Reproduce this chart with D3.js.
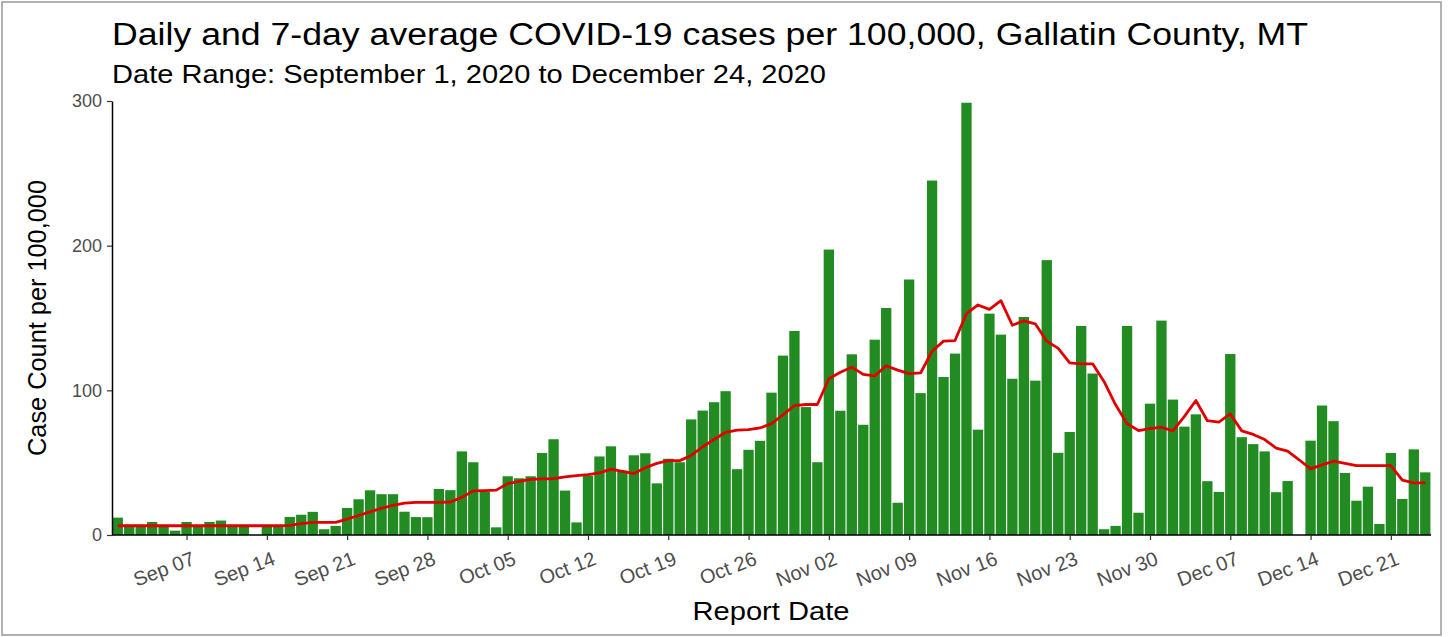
<!DOCTYPE html>
<html>
<head>
<meta charset="utf-8">
<script src="https://cdn.jsdelivr.net/npm/d3@7"></script>
<style>
  body { margin: 0; background: #fff; }
  text { font-family: "Liberation Sans", Arial, sans-serif; }
</style>
</head>
<body>
<div id="chart"></div>
<script>
// Gallatin County daily cases per 100k, Sep 1 - Dec 24 2020
var startDate = "2020-09-01";

var dailyCases = [
  12, 7, 7, 9, 6, 3, 9, 6, 9, 10, 6, 6, 0, 6, 6, 12.5, 14, 16, 4, 6.3,
  18.7, 24.7, 30.9, 28.2, 28.2, 16.1, 12.4, 12.3, 31.8, 31,
  57.8, 50.3, 30, 5.3, 40.6, 39.2, 40.6, 56.7, 66.2, 30.7, 8.7, 41, 54.3, 61.3, 44.5,
  55.1, 56.5, 35.7, 52.7, 50.3, 79.9, 86, 91.8, 99.4, 45.5, 58.9, 65.1, 98.4, 124, 141, 88.4,
  50.3, 197.3, 85.9, 124.9, 76.2, 135, 156.9, 22.3, 176.6, 98.1, 245, 109.2, 125.4, 298.8, 72.8,
  153, 138.5, 108, 150.7, 106.7, 190, 56.8, 71.2, 144.5, 111.6, 4, 6.3, 144.5, 15.4, 90.8,
  148.2, 93.6, 74.9, 83.4, 37.2, 29.8, 125.1, 67.6, 62.8, 57.8, 29.6, 37.3, 0, 65.2, 89.5,
  78.7, 42.9, 23.7, 33.4, 7.6, 56.7, 24.9, 59.2, 43.3
];

var avg7day = [
  6.4, 6.4, 6.4, 6.4, 6.4, 6.4, 6.4, 6.4, 6.4, 6.4, 6.4, 6.4, 6.4, 6.4, 6.4, 6.6, 7.8, 8.7, 8.7, 8.7,
  11, 13.5, 16, 18.5, 20.5, 22, 22.6, 22.6, 22.6, 22.8,
  26, 30.5, 30.7, 31, 35.5, 37, 38.5, 38.8, 39, 40.2, 41, 41.7, 43, 45.5, 44,
  42.5, 46.5, 49.5, 51.4, 51.4, 55, 61, 66, 71, 72.5, 72.8, 74, 77, 83, 89.5, 90.2,
  90.2, 108, 112.5, 116, 111, 110, 117, 114, 111.5, 112, 127, 134, 134.4, 153, 159,
  156, 162, 145, 148, 146, 134, 129, 119, 118.3, 118.3, 106, 90, 77, 72.2, 73.5,
  74.5, 72, 82, 93, 79, 78, 83.7, 72, 69.5, 66, 60, 58, 52, 45.7, 48.5,
  51, 49.5, 48, 48, 48, 48, 38, 36, 36
];

var xTicks = ["2020-09-07", "2020-09-14", "2020-09-21", "2020-09-28", "2020-10-05", "2020-10-12",
  "2020-10-19", "2020-10-26", "2020-11-02", "2020-11-09", "2020-11-16", "2020-11-23",
  "2020-11-30", "2020-12-07", "2020-12-14", "2020-12-21"];
var yTicks = [0, 100, 200, 300];

var width = 1448, height = 637;
var margin = {top: 101, right: 17, bottom: 102, left: 112};

var parse = d3.utcParse("%Y-%m-%d");
var day0 = parse(startDate);
var data = dailyCases.map(function(v, i) {
  return {date: d3.utcDay.offset(day0, i), cases: v, avg: avg7day[i]};
});

var svg = d3.select("#chart").append("svg")
  .attr("width", width)
  .attr("height", height);

svg.append("rect")
  .attr("x", 2).attr("y", 2)
  .attr("width", 1439).attr("height", 633)
  .attr("fill", "#fff")
  .attr("stroke", "#999")
  .attr("stroke-width", 1.5);

var x = d3.scaleUtc()
  .domain([d3.utcHour.offset(day0, -12), d3.utcHour.offset(data[data.length - 1].date, 12)])
  .range([margin.left, width - margin.right]);

var y = d3.scaleLinear()
  .domain([0, 300])
  .range([height - margin.bottom, margin.top]);

var dayW = x(d3.utcDay.offset(day0, 1)) - x(day0);
var barW = dayW * 0.9;

svg.append("g")
  .selectAll("rect")
  .data(data)
  .enter().append("rect")
    .attr("x", function(d) { return x(d.date) - barW / 2; })
    .attr("y", function(d) { return y(d.cases); })
    .attr("width", barW)
    .attr("height", function(d) { return y(0) - y(d.cases); })
    .attr("fill", "#228b22");

var avgLine = d3.line()
  .x(function(d) { return x(d.date); })
  .y(function(d) { return y(d.avg); });

svg.append("path")
  .datum(data)
  .attr("d", avgLine)
  .attr("fill", "none")
  .attr("stroke", "#e00000")
  .attr("stroke-width", 2.8)
  .attr("stroke-linejoin", "round");

// axes
var xAxis = svg.append("g")
  .attr("transform", "translate(0," + y(0) + ")")
  .call(d3.axisBottom(x)
    .tickValues(xTicks.map(parse))
    .tickFormat(d3.utcFormat("%b %d"))
    .tickSize(5)
    .tickSizeOuter(0));
xAxis.select(".domain").attr("stroke", "#000").attr("stroke-width", 1.5)
  .attr("d", "M" + margin.left + ",0H" + (width - margin.right));
xAxis.selectAll(".tick line").attr("stroke", "#333").attr("stroke-width", 1.2);
xAxis.selectAll(".tick text")
  .attr("fill", "#4d4d4d")
  .style("font-size", "20px")
  .attr("text-anchor", "end")
  .attr("dy", null)
  .attr("y", 0)
  .attr("transform", "translate(9,29) rotate(-21)");

var yAxis = svg.append("g")
  .attr("transform", "translate(" + margin.left + ",0)")
  .call(d3.axisLeft(y).tickValues(yTicks).tickSize(5).tickSizeOuter(0));
yAxis.select(".domain").attr("stroke", "#000").attr("stroke-width", 1.5);
yAxis.selectAll(".tick line").attr("stroke", "#333").attr("stroke-width", 1.2);
yAxis.selectAll(".tick text")
  .attr("fill", "#4d4d4d")
  .style("font-size", "18px")
  .attr("x", -10);

// titles
svg.append("text")
  .attr("x", 112).attr("y", 45)
  .style("font-size", "31px")
  .attr("fill", "#000")
  .attr("textLength", 1196)
  .attr("lengthAdjust", "spacingAndGlyphs")
  .text("Daily and 7-day average COVID-19 cases per 100,000, Gallatin County, MT");

svg.append("text")
  .attr("x", 112).attr("y", 83)
  .style("font-size", "25px")
  .attr("fill", "#000")
  .attr("textLength", 714)
  .attr("lengthAdjust", "spacingAndGlyphs")
  .text("Date Range: September 1, 2020 to December 24, 2020");

svg.append("text")
  .attr("x", 771)
  .attr("y", 620)
  .attr("text-anchor", "middle")
  .style("font-size", "26px")
  .attr("fill", "#000")
  .attr("textLength", 157)
  .attr("lengthAdjust", "spacingAndGlyphs")
  .text("Report Date");

svg.append("text")
  .attr("transform", "translate(46," + ((margin.top + height - margin.bottom) / 2) + ") rotate(-90)")
  .attr("text-anchor", "middle")
  .style("font-size", "25px")
  .attr("fill", "#000")
  .attr("textLength", 276)
  .attr("lengthAdjust", "spacingAndGlyphs")
  .text("Case Count per 100,000");
</script>
</body>
</html>
